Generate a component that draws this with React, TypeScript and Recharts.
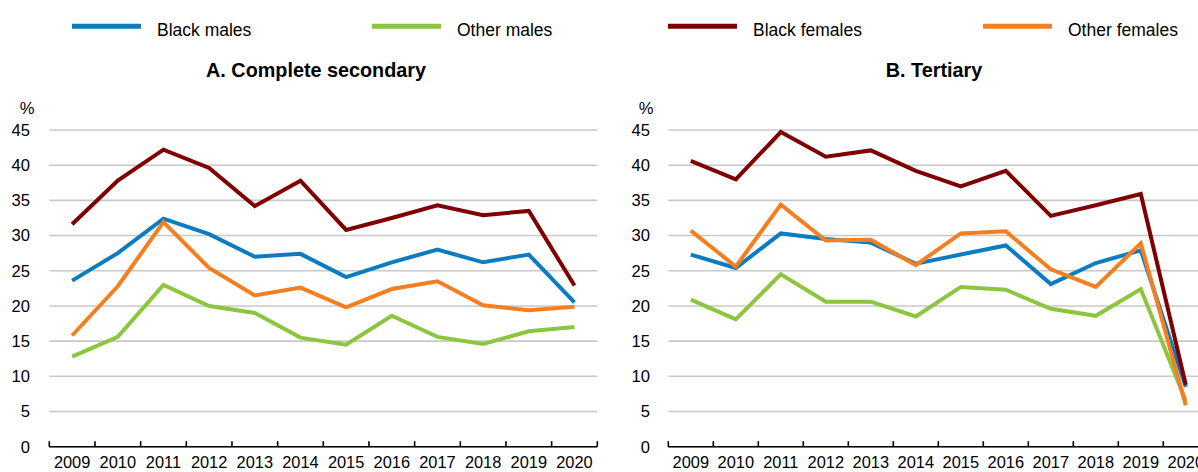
import React from 'react';
import { LineChart, Line, XAxis, YAxis, CartesianGrid } from 'recharts';

// years on the x axis
const years = ['2009', '2010', '2011', '2012', '2013', '2014', '2015', '2016', '2017', '2018', '2019', '2020'];
const yTicks = [0, 5, 10, 15, 20, 25, 30, 35, 40, 45];

// A. Complete secondary
const secBlackMales = [23.6, 27.5, 32.4, 30.2, 27.0, 27.4, 24.1, 26.2, 28.0, 26.2, 27.3, 20.5];
const secOtherMales = [12.8, 15.6, 23.0, 20.0, 19.0, 15.5, 14.5, 18.6, 15.6, 14.6, 16.4, 17.0];
const secBlackFemales = [31.6, 37.8, 42.2, 39.6, 34.2, 37.8, 30.8, 32.5, 34.3, 32.9, 33.5, 22.9];
const secOtherFemales = [15.8, 22.8, 31.9, 25.4, 21.5, 22.6, 19.8, 22.4, 23.5, 20.1, 19.4, 19.9];

// B. Tertiary
const terBlackMales = [27.3, 25.4, 30.3, 29.5, 29.0, 26.0, 27.3, 28.6, 23.1, 26.1, 27.9, 8.5];
const terOtherMales = [20.9, 18.1, 24.5, 20.6, 20.6, 18.5, 22.7, 22.3, 19.6, 18.6, 22.4, 6.5];
const terBlackFemales = [40.6, 38.0, 44.7, 41.2, 42.1, 39.2, 37.0, 39.2, 32.8, 34.3, 35.9, 8.8];
const terOtherFemales = [30.7, 25.6, 34.4, 29.3, 29.4, 25.8, 30.3, 30.6, 25.2, 22.7, 28.9, 5.9];

const series = [
  { key: 'blackMales', name: 'Black males', color: '#0b7cc1' },
  { key: 'otherMales', name: 'Other males', color: '#8cc63f' },
  { key: 'blackFemales', name: 'Black females', color: '#7f0000' },
  { key: 'otherFemales', name: 'Other females', color: '#f47f20' },
];
// draw order: back to front
const drawOrder = ['otherMales', 'blackMales', 'otherFemales', 'blackFemales'];

const secData = years.map((y, i) => ({
  year: y,
  blackMales: secBlackMales[i],
  otherMales: secOtherMales[i],
  blackFemales: secBlackFemales[i],
  otherFemales: secOtherFemales[i],
}));
const terData = years.map((y, i) => ({
  year: y,
  blackMales: terBlackMales[i],
  otherMales: terOtherMales[i],
  blackFemales: terBlackFemales[i],
  otherFemales: terOtherFemales[i],
}));

const FONT = '"Liberation Sans", Arial, sans-serif';
const CHART_W = 600;
const CHART_H = 472;
const Y_AXIS_W = 49.3;
const X_AXIS_H = 25.3;

function YearTick(props: any) {
  const { x, y, payload, index, half } = props;
  return (
    <g>
      <line x1={x - half} x2={x - half} y1={y - 5.5} y2={y} stroke="#000" strokeWidth={1.6} />
      {index === years.length - 1 && (
        <line x1={x + half} x2={x + half} y1={y - 5.5} y2={y} stroke="#000" strokeWidth={1.6} />
      )}
      <text x={x} y={y + 21} textAnchor="middle" fill="#000" fontSize={16.4} fontFamily={FONT}>
        {payload.value}
      </text>
    </g>
  );
}

function Panel({ data, left, rightMargin, labelGap }: { data: any[]; left: number; rightMargin: number; labelGap: number }) {
  const plotW = CHART_W - Y_AXIS_W - rightMargin;
  const half = plotW / years.length / 2;
  return (
    <div style={{ position: 'absolute', left, top: 0 }}>
      <LineChart width={CHART_W} height={CHART_H} data={data} margin={{ top: 130, right: rightMargin, bottom: 0, left: 0 }}>
        <CartesianGrid vertical={false} stroke="#c8c8c8" strokeWidth={1.6} />
        <XAxis
          dataKey="year"
          height={X_AXIS_H}
          interval={0}
          padding={{ left: half, right: half }}
          tickLine={false}
          tickSize={0}
          tickMargin={0}
          axisLine={{ stroke: '#000', strokeWidth: 1.6 }}
          tick={(p: any) => <YearTick {...p} half={half} />}
        />
        <YAxis
          width={Y_AXIS_W}
          domain={[0, 45]}
          ticks={yTicks}
          interval={0}
          axisLine={false}
          tickLine={false}
          tickSize={0}
          tickMargin={labelGap}
          tick={{ fill: '#000', fontSize: 16.6, fontFamily: FONT }}
          label={{
            content: (lp: any) => {
              const vb = lp.viewBox || {};
              return (
                <text x={vb.x + vb.width / 2 + 2.5} y={vb.y - 16} textAnchor="middle" fill="#000" fontSize={16.6} fontFamily={FONT}>
                  %
                </text>
              );
            },
          }}
        />
        {drawOrder.map((k) => {
          const s = series.find((d) => d.key === k)!;
          return (
            <Line
              key={k}
              type="linear"
              dataKey={k}
              name={s.name}
              stroke={s.color}
              strokeWidth={4}
              dot={false}
              activeDot={false}
              isAnimationActive={false}
            />
          );
        })}
      </LineChart>
    </div>
  );
}

const legendItems = [
  { key: 'blackMales', lineX: 72 },
  { key: 'otherMales', lineX: 372 },
  { key: 'blackFemales', lineX: 668 },
  { key: 'otherFemales', lineX: 983 },
];

export default function App() {
  return (
    <div style={{ position: 'absolute', left: 0, top: 0, width: 1198, height: 472, overflow: 'hidden', background: '#fff' }}>
      <Panel data={secData} left={0} rightMargin={2.7} labelGap={19.3} />
      <Panel data={terData} left={619} rightMargin={10.7} labelGap={18.3} />
      <svg width={1198} height={472} style={{ position: 'absolute', left: 0, top: 0, pointerEvents: 'none' }}>
        {legendItems.map((it) => {
          const s = series.find((d) => d.key === it.key)!;
          return (
            <g key={it.key}>
              <line x1={it.lineX} x2={it.lineX + 69} y1={26.3} y2={26.3} stroke={s.color} strokeWidth={5} />
              <text x={it.lineX + 85} y={36} fill="#000" fontSize={17.5} fontFamily={FONT}>
                {s.name}
              </text>
            </g>
          );
        })}
        <text x={316} y={77} textAnchor="middle" fill="#000" fontSize={19.8} fontWeight="bold" fontFamily={FONT}>
          A. Complete secondary
        </text>
        <text x={934} y={77} textAnchor="middle" fill="#000" fontSize={19.8} fontWeight="bold" fontFamily={FONT}>
          B. Tertiary
        </text>
      </svg>
    </div>
  );
}
